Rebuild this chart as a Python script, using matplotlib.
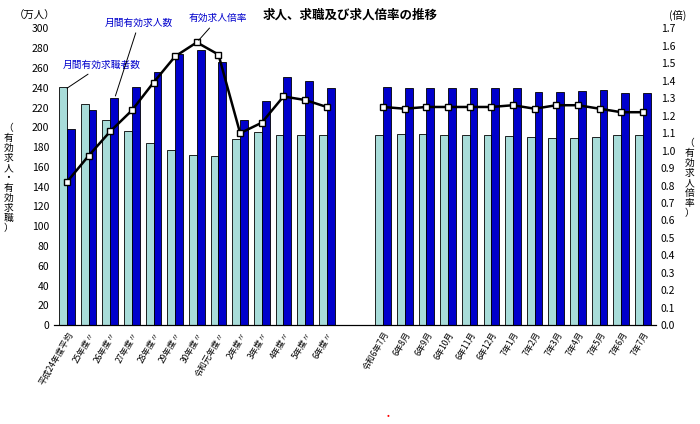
import matplotlib
matplotlib.use('Agg')
import matplotlib.pyplot as plt
import numpy as np
plt.rcParams['font.family'] = ['Noto Sans CJK JP', 'DejaVu Sans']

cats1 = ['平成24年度平均','25年度〃','26年度〃','27年度〃','28年度〃','29年度〃','30年度〃','令和元年度〃','2年度〃','3年度〃','4年度〃','5年度〃','6年度〃']
cats2 = ['令和6年7月','6年8月','6年9月','6年10月','6年11月','6年12月','7年1月','7年2月','7年3月','7年4月','7年5月','7年6月','7年7月']
seekers = [241,224,207,196,184,177,172,171,188,195,192,192,192, 192,193,193,192,192,192,191,190,189,189,190,192,192]
offers = [198,218,230,241,256,274,278,266,207,227,251,247,240, 241,240,240,240,240,240,240,236,236,237,238,235,235]
ratio = [0.82,0.97,1.11,1.23,1.39,1.54,1.62,1.55,1.10,1.16,1.31,1.29,1.25, 1.25,1.24,1.25,1.25,1.25,1.25,1.26,1.24,1.26,1.26,1.24,1.22,1.22]

n1 = len(cats1)
x = np.array(list(range(n1)) + [n1 + 1.6 + i for i in range(len(cats2))])
labels = cats1 + cats2

fig = plt.figure(figsize=(7, 4.24), dpi=100)
ax = fig.add_axes([0.077, 0.233, 0.86, 0.7])
w = 0.36
ax.bar(x - w/2, seekers, w, color='#a8dcd9', edgecolor='black', linewidth=0.6)
ax.bar(x + w/2, offers, w, color='#0000cc', edgecolor='black', linewidth=0.6)
ax.set_ylim(0, 300)
ax.set_yticks(range(0, 301, 20))
ax.set_xlim(-0.6, x[-1] + 0.6)
ax.set_xticks(x)
ax.set_xticklabels(labels, rotation=60, ha='right', rotation_mode='anchor', fontsize=6)
ax.tick_params(axis='y', labelsize=7.5, length=0)
ax.tick_params(axis='x', length=0)
for s in ['top', 'right', 'left']:
    ax.spines[s].set_visible(False)

ax2 = ax.twinx()
x1 = x[:n1]; x2 = x[n1:]
for xs, ys in [(x1, ratio[:n1]), (x2, ratio[n1:])]:
    ax2.plot(xs, ys, color='black', lw=1.8, marker='s', ms=5, mfc='white', mec='black')
ax2.set_ylim(0, 1.7)
ax2.set_yticks(np.arange(0, 1.71, 0.1))
ax2.set_yticklabels([f'{v:.1f}' for v in np.arange(0, 1.71, 0.1)])
ax2.tick_params(axis='y', labelsize=7.5, length=0)
for s in ['top', 'right', 'left']:
    ax2.spines[s].set_visible(False)

fig.text(0.5, 0.955, '求人、求職及び求人倍率の推移', ha='center', fontsize=9, fontweight='bold')
fig.text(0.02, 0.955, '（万人）', fontsize=7.5)
fig.text(0.955, 0.955, '(倍)', fontsize=7.5)
left_lab = '（有効求人・有効求職）'
fig.text(0.012, 0.58, '\n'.join(left_lab), fontsize=7, va='center', ha='center', linespacing=1.0)
right_lab = '（有効求人倍率）'
fig.text(0.985, 0.58, '\n'.join(right_lab), fontsize=7, va='center', ha='center', linespacing=1.0)

ax.annotate('月間有効求職者数', xy=(x[0] - 0.1, 238), xytext=(0.09, 0.84), textcoords='figure fraction',
            fontsize=7, color='#0000cc', arrowprops=dict(arrowstyle='-', color='black', lw=0.7))
ax.annotate('月間有効求人数', xy=(x[2] + 0.2, 229), xytext=(0.15, 0.94), textcoords='figure fraction',
            fontsize=7, color='#0000cc', arrowprops=dict(arrowstyle='-', color='black', lw=0.7))
ax2.annotate('有効求人倍率', xy=(x[6], 1.62), xytext=(0.27, 0.95), textcoords='figure fraction',
             fontsize=7, color='#0000cc', arrowprops=dict(arrowstyle='-', color='black', lw=0.7))
fig.text(0.553, 0.015, '•', color='red', fontsize=6)
fig.savefig('out.png')
